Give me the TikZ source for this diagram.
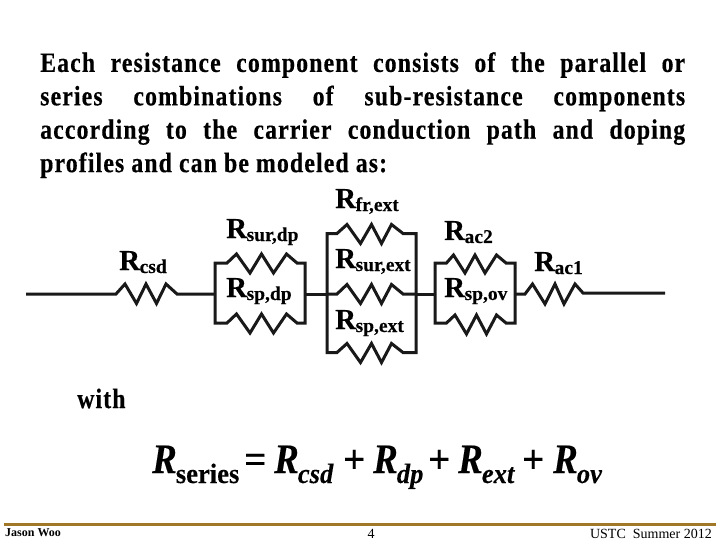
\documentclass[tikz,border=0pt]{standalone}
\usepackage{fontspec}
\setmainfont{Liberation Serif}
\newfontfamily\bodyfont[FakeStretch=0.85,LetterSpace=4,FakeBold=0.4,BoldFont=*]{Liberation Serif Bold}
\newfontfamily\labelfont[FakeBold=0.3,BoldFont=*]{Liberation Serif Bold}
\newfontfamily\eqfont[FakeStretch=0.88,FakeBold=0.3,BoldFont=*]{Liberation Serif Bold Italic}
\newfontfamily\eqsubfont[FakeStretch=0.95,FakeBold=0.2,BoldFont=*]{Liberation Serif Bold Italic}
\newfontfamily\equpfont[FakeStretch=0.95,FakeBold=0.2,BoldFont=*]{Liberation Serif Bold}
\newcommand{\fsz}[1]{\fontsize{#1}{#1}\selectfont}
\newcommand{\RL}[1]{{\labelfont\fsz{29}R\kern-0.5pt\raisebox{-3pt}{\fsz{19.5}#1}}}
\newcommand{\EqR}[3]{\makebox[#1pt][l]{\eqfont\fsz{42}R\kern-1pt\raisebox{-10pt}{#3\fsz{28}#2}}}
\newcommand{\EqS}[2]{\makebox[#1pt][l]{\equpfont\fsz{41}#2}}
\definecolor{rulegold}{RGB}{160,120,40}
\tikzset{
  wire/.style={line width=3pt,line join=miter,line cap=butt,black!90},
  rlabel/.style={inner sep=0pt,anchor=base west},
  bodytext/.style={inner sep=0pt,anchor=north west,text width=645pt,align=justify},
  foot/.style={inner sep=0pt,anchor=base}
}
\begin{document}
\begin{tikzpicture}[x=1pt,y=-1pt]
\useasboundingbox (0,0) rectangle (720,540);
\fill[white] (0,0) rectangle (720,540);
% body text
\node[bodytext] (body) at (40,52) {\bodyfont\fsz{28}\baselineskip=33.4pt
Each resistance component consists of the parallel or\linebreak
series combinations of sub-resistance components\linebreak
according to the carrier conduction path and doping\linebreak
profiles and can be modeled as:\par};
\node[rlabel] (with) at (77,408) {\bodyfont\fsz{28}with};
% junctions
\coordinate (L) at (26,294);
\coordinate (Ax) at (215,294);
\coordinate (Ay) at (305,294);
\coordinate (Bx) at (327,294);
\coordinate (By) at (416,294);
\coordinate (Cx) at (435,294);
\coordinate (Cy) at (515,294);
\coordinate (E) at (665,293);
% Rcsd
\draw[wire] (L) -- (116,294) -- (125,284) -- (136.5,303.5) -- (146,284) -- (156.5,303.5) -- (166,284) -- (177,294) -- (Ax);
% box A
\draw[wire] (Ax) -- (215,263) -- (227,263) -- (236.5,254) -- (250,273) -- (261.5,254) -- (273.5,273) -- (286.5,254) -- (297,263) -- (305,263) -- (Ay);
\draw[wire] (Ax) -- (215,323) -- (227,323) -- (236.5,314) -- (250,333) -- (261.5,314) -- (273.5,333) -- (286.5,314) -- (297,323) -- (305,323) -- (Ay);
\draw[wire] (Ay) -- (Bx);
% box B
\draw[wire] (Bx) -- (327,233.5) -- (337,233.5) -- (347,224.5) -- (360.5,243.5) -- (371.5,224.5) -- (381.5,243.5) -- (391.5,224.5) -- (403,233.5) -- (416,233.5) -- (By);
\draw[wire] (Bx) -- (337,294) -- (347,284.5) -- (360.5,303.5) -- (371.5,284.5) -- (381.5,303.5) -- (391.5,284.5) -- (403,294) -- (By);
\draw[wire] (Bx) -- (327,352.5) -- (337,352.5) -- (347,343.5) -- (360.5,362.5) -- (371.5,343.5) -- (381.5,362.5) -- (391.5,343.5) -- (403,352.5) -- (416,352.5) -- (By);
\draw[wire] (By) -- (Cx);
% box C
\draw[wire] (Cx) -- (435,263) -- (446.5,263) -- (453.5,255) -- (465,273) -- (475,255) -- (485,273) -- (496.5,255) -- (506,263) -- (515,263) -- (Cy);
\draw[wire] (Cx) -- (435,323) -- (446.5,323) -- (455,315) -- (466.5,334) -- (476.5,315) -- (486.5,334) -- (496.5,315) -- (506,323) -- (515,323) -- (Cy);
% Rac1
\draw[wire] (Cy) -- (525,294) -- (532.5,284) -- (545,304) -- (555,284) -- (564,304) -- (575,284) -- (583,293) -- (E);
% labels
\node[rlabel] (l1) at (119,270) {\RL{csd}};
\node[rlabel] (l2) at (226,238) {\RL{sur,dp}};
\node[rlabel] (l3) at (226,297) {\RL{sp,dp}};
\node[rlabel] (l4) at (335,208) {\RL{fr,ext}};
\node[rlabel] (l5) at (335,268) {\RL{sur,ext}};
\node[rlabel] (l6) at (335,329) {\RL{sp,ext}};
\node[rlabel] (l7) at (444,240) {\RL{ac2}};
\node[rlabel] (l8) at (444,297) {\RL{sp,ov}};
\node[rlabel] (l9) at (534,271) {\RL{ac1}};
% equation
\node[rlabel] (eq) at (152,473) {\EqR{92}{series}{\equpfont}\EqS{30}{=}\EqR{69}{csd}{\eqsubfont}\EqS{30}{+}\EqR{55}{dp}{\eqsubfont}\EqS{30}{+}\EqR{64}{ext}{\eqsubfont}\EqS{31}{+}\EqR{45}{ov}{\eqsubfont}};
% footer
\draw[line width=3pt,color=rulegold] (4,524) -- (716,524);
\node[foot,anchor=base west] (f1) at (5,536) {\fsz{12}\bfseries Jason Woo};
\node[foot] (f2) at (371,538) {\fsz{14}4};
\node[foot,anchor=base east] (f3) at (712,538) {\fsz{14}USTC\ \ Summer 2012};
\end{tikzpicture}
\end{document}
